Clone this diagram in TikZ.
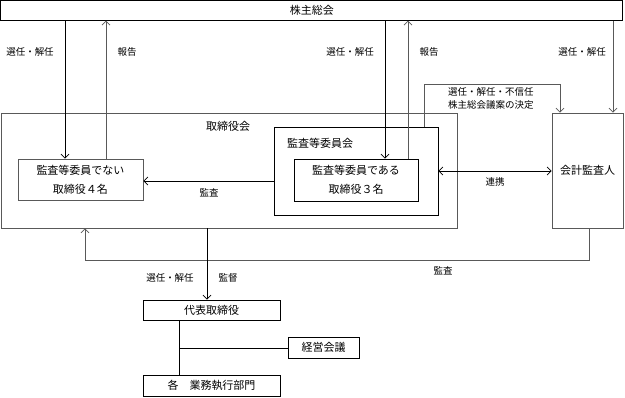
\documentclass[tikz,border=0pt]{standalone}
\usepackage{fontspec}
\setmainfont{Noto Sans CJK JP}
\usetikzlibrary{arrows.meta}
\definecolor{gl}{gray}{0.35}
\tikzset{
  box/.style={draw, line width=0.75pt, inner sep=0pt, align=center, font=\fontsize{11}{19}\selectfont},
  gbox/.style={box, draw=gl},
  lab/.style={inner sep=0pt, font=\fontsize{9.5}{13}\selectfont},
  ln/.style={line width=0.75pt},
  gln/.style={line width=0.75pt, draw=gl},
  arr/.style={-{Straight Barb[length=4pt,width=8pt]}},
  darr/.style={{Straight Barb[length=4pt,width=8pt]}-{Straight Barb[length=4pt,width=8pt]}}
}
\begin{document}
\begin{tikzpicture}[x=1pt,y=-1pt]
\useasboundingbox (0,0) rectangle (625,398);
% boxes
\node[box, minimum width=622pt, minimum height=20pt] (soukai) at (311.8,10.3) {株主総会};
\node[gbox, minimum width=456pt, minimum height=115pt] (tori) at (229,170.5) {};
\node[lab, font=\fontsize{11}{13}\selectfont] (toriT) at (228,126) {取締役会};
\node[gbox, minimum width=125pt, minimum height=41pt] (left) at (80.5,179.5) {監査等委員でない\\取締役４名};
\node[box, minimum width=164pt, minimum height=88pt] (kansakai) at (356,171) {};
\node[lab, anchor=west, font=\fontsize{11}{13}\selectfont] (kansakaiT) at (287,143) {監査等委員会};
\node[box, minimum width=124pt, minimum height=42pt] (inner) at (356,180) {監査等委員である\\取締役３名};
\node[gbox, minimum width=71pt, minimum height=115pt] (kaikei) at (587.5,170.5) {会計監査人};
\node[box, minimum width=137pt, minimum height=20pt] (daihyo) at (211.5,310) {代表取締役};
\node[box, minimum width=71pt, minimum height=21pt] (keiei) at (323.5,347.5) {経営会議};
\node[box, minimum width=137pt, minimum height=21pt] (kaku) at (211.5,385.5) {各　業務執行部門};
% coordinates
\coordinate (t1) at (424,84);
\coordinate (t2) at (560,84);
\coordinate (b1) at (589,260);
\coordinate (b2) at (85,260);
\coordinate (br) at (179,348);
% connectors
\draw[ln, arr] (soukai.south -| 65,0) -- (left.north -| 65,0);
\draw[gln, arr] (left.north -| 106,0) -- (soukai.south -| 106,0);
\draw[ln, arr] (soukai.south -| 385,0) -- (inner.north -| 385,0);
\draw[gln, arr] (inner.north -| 408,0) -- (soukai.south -| 408,0);
\draw[gln, arr] (kansakai.north -| t1) -- (t1) -- (t2) -- (kaikei.north -| t2);
\draw[gln, arr] (soukai.south -| 613,0) -- (kaikei.north -| 613,0);
\draw[ln, arr] (kansakai.west |- 0,181) -- (left.east |- 0,181);
\draw[ln, darr] (kansakai.east |- 0,171) -- (kaikei.west |- 0,171);
\draw[gln, arr] (kaikei.south -| b1) -- (b1) -- (b2) -- (tori.south -| b2);
\draw[ln, arr] (tori.south -| 207,0) -- (daihyo.north -| 207,0);
\draw[ln] (daihyo.south -| br) -- (kaku.north -| br);
\draw[ln] (br) -- (keiei.west |- br);
% labels
\node[lab] (l1) at (30,52) {選任・解任};
\node[lab] (l2) at (127,52) {報告};
\node[lab] (l3) at (350,52) {選任・解任};
\node[lab] (l4) at (429,52) {報告};
\node[lab] (l5) at (582,52) {選任・解任};
\node[lab, anchor=west] (l6) at (448,92) {選任・解任・不信任};
\node[lab, anchor=west] (l7) at (448,105) {株主総会議案の決定};
\node[lab] (l8) at (209,193) {監査};
\node[lab] (l9) at (495,182) {連携};
\node[lab] (l10) at (443,271) {監査};
\node[lab] (l11) at (170,278) {選任・解任};
\node[lab] (l12) at (228,278) {監督};
\end{tikzpicture}
\end{document}
